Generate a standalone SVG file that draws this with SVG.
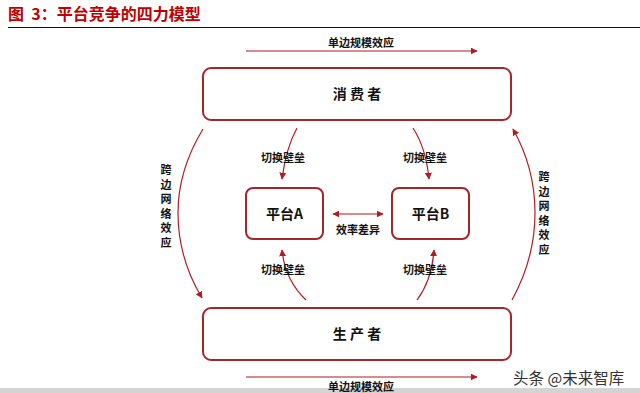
<svg xmlns="http://www.w3.org/2000/svg" width="640" height="393" viewBox="0 0 640 393">
<defs>
<marker id="ah" viewBox="0 0 10 10" refX="9" refY="5" markerWidth="7" markerHeight="7" orient="auto-start-reverse" markerUnits="userSpaceOnUse">
<path d="M0,0 L10,5 L0,10 z" fill="#b01c22"/>
</marker>
<style>
.box{fill:#fff;stroke:#a3262b;stroke-width:2}
.t{font-family:"Noto Sans CJK SC","Noto Sans CJK JP",sans-serif;fill:#111;text-anchor:middle}
.big{font-size:14px;font-weight:bold}
.sm{font-size:11px;font-weight:bold}
.ln{fill:none;stroke:#b01c22;stroke-width:1.2}
</style>
</defs>
<rect width="640" height="393" fill="#fff"/>
<text x="8" y="20" font-family="'Noto Sans CJK SC',sans-serif" font-size="16" font-weight="bold" fill="#c00000" xml:space="preserve">图  3：平台竞争的四力模型</text>
<line x1="8" y1="27.5" x2="640" y2="27.5" stroke="#111" stroke-width="1"/>
<rect x="0" y="388" width="640" height="5" fill="#d4d4d4"/>

<g id="consumer">
<rect class="box" x="203" y="68" width="308" height="52" rx="8"/>
<text class="t big" x="357" y="99">消 费 者</text>
</g>
<g id="producer">
<rect class="box" x="203" y="308" width="308" height="52" rx="8"/>
<text class="t big" x="357" y="339">生 产 者</text>
</g>
<g id="platformA">
<rect class="box" x="246" y="188" width="77" height="51" rx="7"/>
<text class="t big" x="284.5" y="219">平台A</text>
</g>
<g id="platformB">
<rect class="box" x="392" y="188" width="77" height="51" rx="7"/>
<text class="t big" x="430.5" y="219">平台B</text>
</g>

<g id="connectors">
<line class="ln" x1="246" y1="51" x2="477" y2="51" marker-end="url(#ah)"/>
<line class="ln" x1="246" y1="377" x2="477" y2="377" marker-end="url(#ah)"/>
<line class="ln" x1="333" y1="214" x2="383" y2="214" marker-start="url(#ah)" marker-end="url(#ah)"/>
<path class="ln" d="M297,128 Q286,148 282,179" marker-end="url(#ah)"/>
<path class="ln" d="M413,128 Q426,148 429,179" marker-end="url(#ah)"/>
<path class="ln" d="M306,300 Q285,280 282,250" marker-end="url(#ah)"/>
<path class="ln" d="M417,300 Q432,280 434,250" marker-end="url(#ah)"/>
<path class="ln" d="M203,129 Q178,170 178,213 Q178,258 202,298" marker-end="url(#ah)"/>
<path class="ln" d="M512,300 Q535,258 535,213 Q535,168 513,129" marker-end="url(#ah)"/>
</g>

<g id="labels">
<text class="t sm" x="361" y="47">单边规模效应</text>
<text class="t sm" x="361" y="391">单边规模效应</text>
<text class="t sm" x="358" y="234">效率差异</text>
<text class="t sm" x="283" y="162">切换壁垒</text>
<text class="t sm" x="425" y="162">切换壁垒</text>
<text class="t sm" x="283" y="274">切换壁垒</text>
<text class="t sm" x="425" y="274">切换壁垒</text>
<text class="t sm" x="166" y="174">跨</text>
<text class="t sm" x="166" y="188.5">边</text>
<text class="t sm" x="166" y="203">网</text>
<text class="t sm" x="166" y="217.5">络</text>
<text class="t sm" x="166" y="232">效</text>
<text class="t sm" x="166" y="246.5">应</text>
<text class="t sm" x="544" y="181">跨</text>
<text class="t sm" x="544" y="195.5">边</text>
<text class="t sm" x="544" y="210">网</text>
<text class="t sm" x="544" y="224.5">络</text>
<text class="t sm" x="544" y="239">效</text>
<text class="t sm" x="544" y="253.5">应</text>
</g>
<text x="513" y="384" font-family="'Noto Sans CJK SC',sans-serif" font-size="15.5" fill="#333">头条 @未来智库</text>
</svg>
